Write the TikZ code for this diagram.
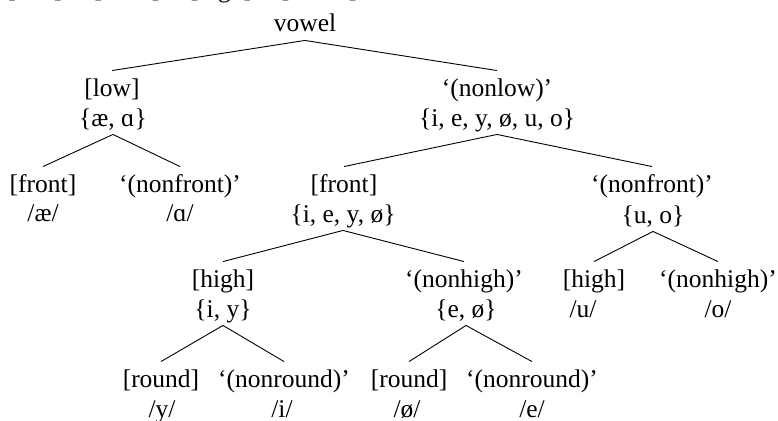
\documentclass[tikz,border=0pt]{standalone}
\usepackage{fontspec}
\setmainfont{Liberation Serif}
\usepackage{tikz}

\begin{document}
\begin{tikzpicture}[x=1pt, y=-1pt, line width=0.9pt,
    every node/.style={font=\fontsize{25.5}{30}\selectfont, anchor=base,
      inner sep=2pt, text height=23pt, text depth=6pt}]
  \clip (0,0) rectangle (778,420);
  % ordering line, cut off at the top edge
  \node (ordlow) at (35,-2.5) {[low]};
  \node (ordfront) at (127,-2.5) {[front]};
  \node (ordhigh) at (221,-2.5) {[high]};
  \node (ordround) at (319,-2.5) {[round]};
  % tree
  \node (vowel) at (305,32) {vowel};
  \node (low) at (112,96) {[low]};
  \node (lowset) at (113,126) {\{æ, ɑ\}};
  \node (nonlow) at (497,96) {‘(nonlow)’};
  \node (nonlowset) at (497,126) {\{i, e, y, ø, u, o\}};
  \node (frontA) at (43,192) {[front]};
  \node (frontAset) at (43,221) {/æ/};
  \node (nonfrontA) at (180,192) {‘(nonfront)’};
  \node (nonfrontAset) at (180,221) {/ɑ/};
  \node (frontB) at (344,192) {[front]};
  \node (frontBset) at (343,222) {\{i, e, y, ø\}};
  \node (nonfrontB) at (652,192) {‘(nonfront)’};
  \node (nonfrontBset) at (653,223) {\{u, o\}};
  \node (highA) at (223,287) {[high]};
  \node (highAset) at (223,317) {\{i, y\}};
  \node (nonhighA) at (464,287) {‘(nonhigh)’};
  \node (nonhighAset) at (466,317) {\{e, ø\}};
  \node (highB) at (594,287) {[high]};
  \node (highBset) at (583,317) {/u/};
  \node (nonhighB) at (718,287) {‘(nonhigh)’};
  \node (nonhighBset) at (718,317) {/o/};
  \node (roundA) at (161,387) {[round]};
  \node (roundAset) at (162,417) {/y/};
  \node (nonroundA) at (284,387) {‘(nonround)’};
  \node (nonroundAset) at (282,417) {/i/};
  \node (roundB) at (409,387) {[round]};
  \node (roundBset) at (407,417) {/ø/};
  \node (nonroundB) at (532,387) {‘(nonround)’};
  \node (nonroundBset) at (532,417) {/e/};
  \draw (vowel.south) -- (low.north);
  \draw (vowel.south) -- (nonlow.north);
  \draw (lowset.south) -- (frontA.north);
  \draw (lowset.south) -- (nonfrontA.north);
  \draw (nonlowset.south) -- (frontB.north);
  \draw (nonlowset.south) -- (nonfrontB.north);
  \draw (frontBset.south) -- (highA.north);
  \draw (frontBset.south) -- (nonhighA.north);
  \draw (nonfrontBset.south) -- (highB.north);
  \draw (nonfrontBset.south) -- (nonhighB.north);
  \draw (highAset.south) -- (roundA.north);
  \draw (highAset.south) -- (nonroundA.north);
  \draw (nonhighAset.south) -- (roundB.north);
  \draw (nonhighAset.south) -- (nonroundB.north);
\end{tikzpicture}
\end{document}
